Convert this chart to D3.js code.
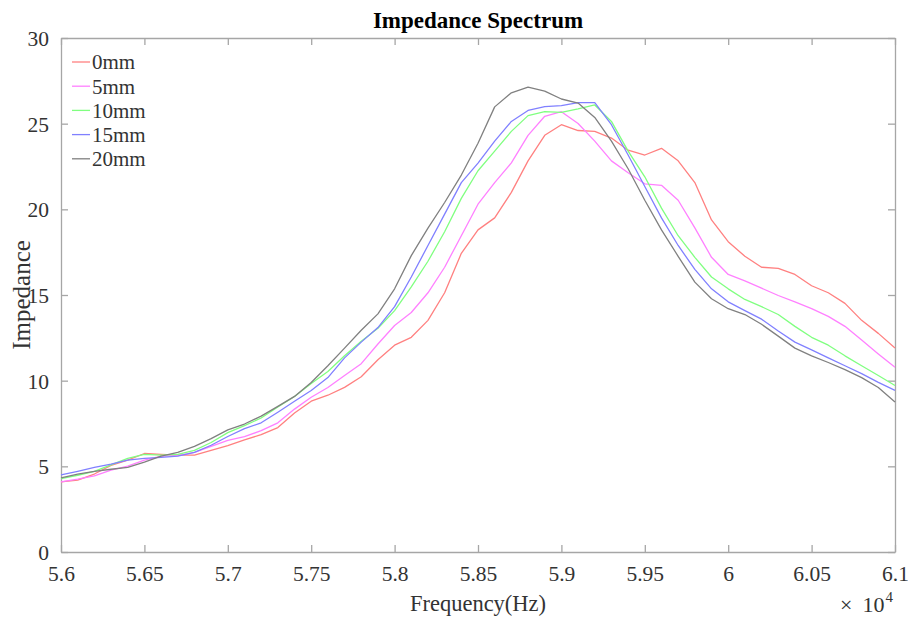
<!DOCTYPE html>
<html>
<head>
<meta charset="utf-8">
<script src="https://cdn.jsdelivr.net/npm/d3@7"></script>
<style>
  html, body { margin: 0; padding: 0; background: #fff; }
  svg { display: block; }
  text { font-family: "Liberation Serif", "Times New Roman", serif; }
</style>
</head>
<body>
<svg id="chart" width="908" height="617"></svg>
<script>
// Frequency in units of 10^4 Hz
const frequencies = d3.range(51).map(i => +(5.6 + i * 0.01).toFixed(2));
const seriesNames = ["0mm", "5mm", "10mm", "15mm", "20mm"];
const seriesColors = ["#ff8080", "#ff80ff", "#80ff80", "#8080ff", "#808080"];

const z0mm = [4.09,4.2,4.55,5.06,5.36,5.75,5.7,5.66,5.66,5.93,6.21,6.55,6.85,7.26,8.11,8.8,9.15,9.61,10.23,11.22,12.07,12.53,13.52,15.13,17.43,18.8,19.5,20.99,22.83,24.32,24.94,24.6,24.55,24.16,23.45,23.17,23.56,22.83,21.56,19.38,18.11,17.26,16.62,16.55,16.2,15.54,15.13,14.51,13.52,12.76,11.91];
const z5mm = [4.09,4.25,4.44,4.78,5.01,5.36,5.59,5.63,5.82,6.16,6.51,6.74,7.08,7.54,8.34,9.03,9.6,10.3,10.99,12.14,13.22,13.98,15.13,16.62,18.46,20.3,21.56,22.71,24.32,25.43,25.7,25.01,23.98,22.83,22.14,21.49,21.4,20.53,18.92,17.2,16.2,15.82,15.4,14.97,14.6,14.2,13.75,13.17,12.37,11.56,10.78];
const z10mm = [4.28,4.48,4.71,5.08,5.47,5.7,5.66,5.7,5.93,6.39,6.97,7.38,7.82,8.46,9.08,9.84,10.53,11.45,12.3,13.06,14.09,15.47,16.97,18.69,20.64,22.25,23.4,24.55,25.47,25.7,25.66,25.86,26.09,25.13,23.4,21.9,20.07,18.46,17.2,16.05,15.36,14.74,14.32,13.86,13.17,12.53,12.07,11.45,10.87,10.3,9.72];
const z15mm = [4.5,4.71,4.94,5.13,5.36,5.47,5.52,5.59,5.82,6.23,6.74,7.2,7.54,8.16,8.8,9.43,10.18,11.33,12.25,13.1,14.32,16.05,17.89,19.72,21.56,22.7,23.98,25.13,25.77,26.0,26.05,26.23,26.23,24.94,23.17,21.33,19.5,17.89,16.5,15.36,14.6,14.09,13.59,12.9,12.25,11.8,11.33,10.87,10.41,9.9,9.43];
const z20mm = [4.32,4.55,4.71,4.83,4.94,5.24,5.59,5.82,6.16,6.62,7.13,7.47,7.93,8.5,9.08,9.89,10.87,11.9,12.94,13.9,15.36,17.3,18.9,20.4,22.0,23.86,25.98,26.8,27.13,26.9,26.44,26.2,25.36,23.98,22.37,20.53,18.8,17.26,15.75,14.78,14.2,13.86,13.29,12.6,11.9,11.45,11.06,10.64,10.18,9.6,8.76];
const seriesValues = [z0mm, z5mm, z10mm, z15mm, z20mm];

const xTicks = [5.6,5.65,5.7,5.75,5.8,5.85,5.9,5.95,6,6.05,6.1];
const xTickLabels = ["5.6","5.65","5.7","5.75","5.8","5.85","5.9","5.95","6","6.05","6.1"];
const yTicks = [0,5,10,15,20,25,30];

const svg = d3.select("#chart");
const L = 61, R = 895, T = 38, B = 552;
const x = d3.scaleLinear().domain([5.6, 6.1]).range([L, R]);
const y = d3.scaleLinear().domain([0, 30]).range([B, T]);

const axisColor = "#a6a6a6";
const textColor = "#333333";
const tickLen = 7;
const serif = "'Liberation Serif', 'Times New Roman', serif";

// Axes (MATLAB-style inward ticks, box)
const fmt = d => xTickLabels[xTicks.indexOf(d)];
const gx = svg.append("g").attr("transform", `translate(0,${B})`)
  .call(d3.axisBottom(x).tickValues(xTicks).tickFormat(fmt).tickSizeInner(-tickLen).tickSizeOuter(0).tickPadding(14));
const gxt = svg.append("g").attr("transform", `translate(0,${T})`)
  .call(d3.axisTop(x).tickValues(xTicks).tickFormat("").tickSizeInner(-tickLen).tickSizeOuter(0));
const gy = svg.append("g").attr("transform", `translate(${L},0)`)
  .call(d3.axisLeft(y).tickValues(yTicks).tickSizeInner(-tickLen).tickSizeOuter(0).tickPadding(12));
const gyr = svg.append("g").attr("transform", `translate(${R},0)`)
  .call(d3.axisRight(y).tickValues(yTicks).tickFormat("").tickSizeInner(-tickLen).tickSizeOuter(0));

[gx, gxt, gy, gyr].forEach(g => {
  g.attr("font-family", serif);
  g.selectAll(".domain").attr("stroke", axisColor).attr("stroke-width", 1.3);
  g.selectAll(".tick line").attr("stroke", axisColor).attr("stroke-width", 1.3);
  g.selectAll(".tick text").attr("fill", textColor).style("font-size", "21.5px")
    .style("font-family", serif);
});
gx.selectAll(".tick text").attr("dy", "0.71em");
gy.selectAll(".tick text").attr("dy", "0.35em");

// Lines
const line = d3.line().x((d, i) => x(frequencies[i])).y(d => y(d));
seriesValues.forEach((vals, k) => {
  svg.append("path").datum(vals)
    .attr("fill", "none")
    .attr("stroke", seriesColors[k])
    .attr("stroke-width", 1.3)
    .attr("stroke-linejoin", "round")
    .attr("d", line);
});

// Title and labels
svg.append("text").attr("x", 478).attr("y", 28)
  .attr("text-anchor", "middle").attr("fill", "#000")
  .style("font-size", "23px").style("font-weight", "bold")
  .text("Impedance Spectrum");

svg.append("text").attr("x", 478).attr("y", 611)
  .attr("text-anchor", "middle").attr("fill", textColor)
  .style("font-size", "22.5px").text("Frequency(Hz)");

svg.append("text")
  .attr("transform", `translate(30,${(T + B) / 2}) rotate(-90)`)
  .attr("text-anchor", "middle").attr("fill", textColor)
  .style("font-size", "25px").text("Impedance");

const ex = svg.append("text").attr("x", 840).attr("y", 612).attr("fill", textColor)
  .style("font-size", "22px");
ex.append("tspan").text("\u00D7");
ex.append("tspan").attr("dx", 10).text("10");
ex.append("tspan").attr("dy", -10).attr("dx", 1).style("font-size", "15px").text("4");

// Legend
const leg = svg.append("g");
seriesNames.forEach((name, k) => {
  const yy = 62 + k * 24.2;
  leg.append("line").attr("x1", 72).attr("x2", 90).attr("y1", yy).attr("y2", yy)
    .attr("stroke", seriesColors[k]).attr("stroke-width", 1.3);
  leg.append("text").attr("x", 92).attr("y", yy).attr("dy", "0.35em")
    .attr("fill", textColor).style("font-size", "21px").text(name);
});
</script>
</body>
</html>
